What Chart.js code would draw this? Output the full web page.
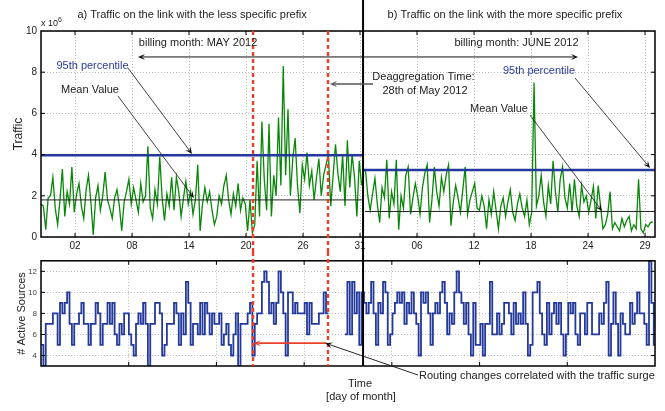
<!DOCTYPE html>
<html><head><meta charset="utf-8">
<script src="https://cdn.jsdelivr.net/npm/chart.js@4/dist/chart.umd.min.js"></script>
<style>
html,body{margin:0;padding:0;background:#fff;}
#wrap{position:relative;width:665px;height:411px;overflow:hidden;background:#fff;}
#c1{position:absolute;left:0;top:0;width:665px;height:252px;}
#c2{position:absolute;left:0;top:252px;width:665px;height:159px;}
</style></head><body>
<div id="wrap"><canvas id="c1" width="665" height="252"></canvas><canvas id="c2" width="665" height="159"></canvas></div>
<script>
const FONT = '"Liberation Sans", Arial, Helvetica, sans-serif';
Chart.defaults.font.family = FONT;

// ---- axis definitions (time axis in days, ticks every 6 days) ----
const xTickValues = [0,6,12,18,24,30,36,42,48,54,60];
const xTickLabels = ['02','08','14','20','26','31','06','12','18','24','29'];
const trafficTicks = [0,2,4,6,8,10];
const sourceTicks = [4,6,8,10,12];
const X_MIN = -3.58, X_MAX = 61.05, SAMPLE_STEP = 0.25;
const MAY_START = -3.58, JUNE_START = 30.32;
const monthSplit = 30.32;
const deaggLines = [18.74, 26.63];

// ---- traffic (x 10^6) ----
const trafficMay = [
 1.6,1.5,0.35,1.9,2.0,2.9,1.4,0.6,1.8,3.3,
 1.0,2.2,1.6,3.4,1.2,2.1,2.6,1.5,0.9,2.3,
 3.0,1.7,0.1,1.9,2.5,1.3,2.0,3.15,1.8,1.4,
 0.9,1.9,2.3,1.5,0.3,1.7,2.2,2.8,1.6,2.4,
 1.8,1.2,2.6,1.7,2.0,4.4,1.4,0.9,2.3,1.6,
 3.9,1.9,0.8,2.1,1.5,2.9,1.3,2.9,2.2,1.0,
 1.9,2.7,1.6,2.2,1.1,1.8,3.5,0.3,1.6,2.4,
 1.7,2.2,1.3,0.6,1.0,2.0,1.6,2.5,3.0,1.8,
 1.1,2.1,1.5,2.6,1.3,1.9,1.6,0.3,1.8,0.2,
 0.6,3.7,1.0,5.6,2.8,1.3,5.5,1.0,3.0,2.0,
 5.8,2.5,8.3,3.0,6.2,2.0,3.8,4.8,2.5,1.15,
 3.5,2.8,4.1,2.5,3.2,1.8,2.9,3.8,2.0,3.0,
 3.5,4.0,1.5,3.0,4.5,3.1,2.2,4.0,1.5,4.7,
 2.4,4.0,2.9,1.0,3.7,2.5
];
const trafficJune = [
 3.2,3.25,2.0,1.3,2.1,2.85,1.6,0.7,2.4,1.9,
 3.75,0.9,2.2,1.6,3.75,0.35,2.0,1.4,3.0,3.4,
 1.1,1.9,2.6,2.0,1.1,2.4,3.1,3.5,0.7,1.8,
 3.4,2.2,1.5,2.9,2.2,3.0,3.5,0.55,1.7,2.5,
 1.9,1.2,2.3,3.4,1.1,1.8,2.2,2.6,1.4,1.3,
 2.0,1.5,0.4,1.8,1.1,2.2,1.3,0.4,1.5,1.9,
 1.0,1.7,2.3,1.2,0.8,1.6,2.1,1.4,1.0,1.8,
 0.6,1.2,7.5,1.5,2.0,3.0,1.7,1.0,2.5,1.6,
 3.7,2.2,1.2,2.8,3.4,1.9,1.4,2.6,1.2,2.8,
 1.5,1.0,2.5,1.7,2.0,1.2,1.8,2.45,0.9,2.5,
 1.5,0.4,0.6,1.1,2.2,0.4,0.7,0.5,0.3,0.9,
 0.5,0.8,1.0,0.3,0.6,0.4,2.8,0.4,0.2,0.6,
 0.5,0.7,0.75
];
const p95Values = [3.97, 3.25];   // May, June
const meanValues = [1.8, 1.24];   // May, June

// ---- number of active sources ----
const activeSources = [
 5,3,7,7,7,8,8,5,9,8,
 9,10,7,5,7,7,8,9,7,7,
 5,7,7,9,8,5,7,7,9,7,
 9,6,5,7,6,8,8,6,5,4,
 7,8,7,9,7,3,7,7,9,9,
 8,4,5,7,7,7,9,8,5,8,
 6,11,9,5,7,7,6,9,6,9,
 8,6,8,7,7,8,5,6,7,5,
 4,6,8,3,7,7,7,8,9,4,
 7,8,8,11,12,11,8,9,7,9,
 12,10,8,4,10,10,8,9,8,8,
 8,9,6,9,7,7,7,8,8,10,
 8,8,null,null,null,null,null,null,6,11,
 6,11,8,10,5,10,9,8,9,11,
 8,5,9,8,11,10,5,6,8,9,
 10,9,10,7,9,8,10,8,7,4,
 10,9,10,8,5,8,9,8,10,11,
 9,6,8,7,10,12,10,9,7,9,
 6,4,9,5,5,7,4,7,7,11,
 6,6,8,6,7,9,9,8,6,9,
 7,8,7,10,7,4,5,10,10,11,
 8,6,5,9,6,8,9,7,9,6,
 4,6,9,8,9,6,5,8,8,6,
 9,9,6,6,6,8,7,9,11,4,
 7,10,7,4,8,7,6,6,9,7,
 8,10,8,8,7,5,13,9,5,6
];

// ---- annotations (data coordinates) ----
const topTexts = [
 {t:'billing month: MAY 2012', x:12.95, y:9.42, c:'#222'},
 {t:'billing month: JUNE 2012', x:46.47, y:9.42, c:'#222'},
 {t:'95th percentile', x:1.84, y:8.30, c:'#2a3c9c'},
 {t:'Mean Value', x:1.58, y:7.14, c:'#222'},
 {t:'Deaggregation Time:', x:36.68, y:7.77, c:'#222'},
 {t:'28th of May 2012', x:36.84, y:7.09, c:'#222'},
 {t:'95th percentile', x:48.84, y:8.06, c:'#2a3c9c'},
 {t:'Mean Value', x:44.63, y:6.21, c:'#222'}
];
const topArrows = [
 {x1:30.32, y1:8.74, x2:6.63, y2:8.74, c:'#111', w:1},
 {x1:30.32, y1:8.74, x2:52.95, y2:8.74, c:'#111', w:1},
 {x1:5.58, y1:8.2, x2:12.32, y2:4.03, c:'#111', w:0.8},
 {x1:4.53, y1:6.84, x2:12.53, y2:1.89, c:'#111', w:0.8},
 {x1:31.37, y1:7.43, x2:26.84, y2:7.43, c:'#555', w:1.6},
 {x1:52.63, y1:7.72, x2:60.53, y2:3.35, c:'#111', w:0.8},
 {x1:47.89, y1:5.92, x2:55.47, y2:1.26, c:'#111', w:0.8}
];
const titleA = {t:'a) Traffic on the link with the less specific prefix', x:12.32};
const titleB = {t:'b) Traffic on the link with the more specific prefix', x:45.26};
const routingArrow = {x1:36.1, x2:26.35, y2:5.17};
const redArrow = {x1:26.5, x2:18.8, y:5.17};

const GREEN = '#0a870a', BLUE = '#23399b', RED = '#e8402a';

function series(start, step, vals){ return vals.map((v,i)=>({x:start+i*step, y:v})); }

function arrow(ctx,x1,y1,x2,y2,color,w){
  const a = Math.atan2(y2-y1, x2-x1), hl = 7, hw = 3;
  const ca = Math.cos(a), sa = Math.sin(a);
  ctx.save();
  ctx.strokeStyle = color; ctx.fillStyle = color; ctx.lineWidth = w; ctx.setLineDash([]);
  ctx.beginPath(); ctx.moveTo(x1,y1); ctx.lineTo(x2 - hl*0.7*ca, y2 - hl*0.7*sa); ctx.stroke();
  ctx.beginPath();
  ctx.moveTo(x2,y2);
  ctx.lineTo(x2 - hl*ca + hw*sa, y2 - hl*sa - hw*ca);
  ctx.lineTo(x2 - hl*0.6*ca, y2 - hl*0.6*sa);
  ctx.lineTo(x2 - hl*ca - hw*sa, y2 - hl*sa + hw*ca);
  ctx.closePath(); ctx.fill();
  ctx.restore();
}
function text(ctx,t,x,y,opts){
  opts = opts||{};
  ctx.save();
  ctx.font = (opts.size||11) + 'px ' + FONT;
  ctx.fillStyle = opts.color||'#222';
  ctx.textAlign = opts.align||'center';
  ctx.textBaseline = 'middle';
  ctx.fillText(t,x,y);
  ctx.restore();
}
function frameAndTicks(chart, xTicksInner){
  const ctx = chart.ctx, ca = chart.chartArea, xs = chart.scales.x, ys = chart.scales.y;
  ctx.save();
  ctx.strokeStyle = '#000'; ctx.setLineDash([]);
  ctx.lineWidth = 1;
  ctx.beginPath();
  xTicksInner.forEach(v=>{
    const p = xs.getPixelForValue(v);
    if (p <= ca.left+1 || p >= ca.right-1) return;
    ctx.moveTo(p, ca.bottom); ctx.lineTo(p, ca.bottom-4);
    ctx.moveTo(p, ca.top); ctx.lineTo(p, ca.top+4);
  });
  ys.ticks.forEach(t=>{
    const p = ys.getPixelForValue(t.value);
    if (p <= ca.top+1 || p >= ca.bottom-1) return;
    ctx.moveTo(ca.left, p); ctx.lineTo(ca.left+4, p);
    ctx.moveTo(ca.right, p); ctx.lineTo(ca.right-4, p);
  });
  ctx.stroke();
  ctx.lineWidth = 1.5;
  ctx.strokeRect(ca.left, ca.top, ca.right-ca.left, ca.bottom-ca.top);
  ctx.restore();
}

const topPlugin = {
  id:'topAnnot',
  afterDraw(chart){
    const ctx = chart.ctx, ca = chart.chartArea, xs = chart.scales.x, ys = chart.scales.y;
    const px = v=>xs.getPixelForValue(v), py = v=>ys.getPixelForValue(v);
    frameAndTicks(chart, xTickValues);
    // red dashed deaggregation lines
    ctx.save();
    ctx.strokeStyle = RED; ctx.lineWidth = 2.4; ctx.setLineDash([4,3]);
    deaggLines.forEach(d=>{ ctx.beginPath(); ctx.moveTo(px(d), ca.top); ctx.lineTo(px(d), chart.height); ctx.stroke(); });
    ctx.setLineDash([]);
    ctx.strokeStyle = '#000'; ctx.lineWidth = 2;
    ctx.beginPath(); ctx.moveTo(px(monthSplit), 0); ctx.lineTo(px(monthSplit), chart.height); ctx.stroke();
    ctx.restore();
    // titles
    text(ctx, titleA.t, px(titleA.x), ca.top-16);
    text(ctx, titleB.t, px(titleB.x), ca.top-16);
    // x 10^6
    text(ctx, 'x 10', ca.left, ca.top-7, {size:9, align:'left'});
    text(ctx, '6', ca.left+17, ca.top-11, {size:7, align:'left'});
    topTexts.forEach(o=>text(ctx, o.t, px(o.x), py(o.y), {color:o.c}));
    topArrows.forEach(a=>arrow(ctx, px(a.x1), py(a.y1), px(a.x2), py(a.y2), a.c, a.w));
  }
};

const bottomXTicks = [];
for (let k=0;k<=7;k++) bottomXTicks.push(X_MIN + k*(X_MAX-X_MIN)/7);

const bottomPlugin = {
  id:'bottomAnnot',
  afterDraw(chart){
    const ctx = chart.ctx, ca = chart.chartArea, xs = chart.scales.x, ys = chart.scales.y;
    const px = v=>xs.getPixelForValue(v), py = v=>ys.getPixelForValue(v);
    frameAndTicks(chart, bottomXTicks);
    ctx.save();
    ctx.strokeStyle = RED; ctx.lineWidth = 2.4; ctx.setLineDash([4,3]);
    deaggLines.forEach(d=>{ ctx.beginPath(); ctx.moveTo(px(d), 0); ctx.lineTo(px(d), ca.bottom); ctx.stroke(); });
    ctx.setLineDash([]);
    ctx.strokeStyle = '#000'; ctx.lineWidth = 2;
    ctx.beginPath(); ctx.moveTo(px(monthSplit), 0); ctx.lineTo(px(monthSplit), ca.bottom); ctx.stroke();
    ctx.restore();
    arrow(ctx, px(redArrow.x1), py(redArrow.y), px(redArrow.x2), py(redArrow.y), RED, 1.8);
    arrow(ctx, px(routingArrow.x1), ca.bottom+9, px(routingArrow.x2), py(routingArrow.y2), '#111', 0.9);
    text(ctx, 'Routing changes correlated with the traffic surge', px(routingArrow.x1)+1, ca.bottom+10, {align:'left'});
    text(ctx, 'Time', px(30.0), ca.bottom+18);
    text(ctx, '[day of month]', px(30.1), ca.bottom+31);
  }
};

const gridCommon = {color:'#a8a8a8', lineWidth:0.8, drawTicks:false, borderDash:[1,2]};
const borderCommon = {display:false, dash:[1,2]};

new Chart(document.getElementById('c1'), {
  type:'line',
  data:{datasets:[
    {data:[{x:X_MIN,y:p95Values[0]},{x:monthSplit,y:p95Values[0]}], borderColor:BLUE, borderWidth:2.4},
    {data:[{x:monthSplit,y:p95Values[1]},{x:X_MAX,y:p95Values[1]}], borderColor:BLUE, borderWidth:2.4},
    {data:[{x:X_MIN,y:meanValues[0]},{x:monthSplit,y:meanValues[0]}], borderColor:'#222', borderWidth:1},
    {data:[{x:monthSplit+0.2,y:meanValues[1]},{x:X_MAX,y:meanValues[1]}], borderColor:'#222', borderWidth:1},
    {data:series(MAY_START, SAMPLE_STEP, trafficMay), borderColor:GREEN, borderWidth:1.3},
    {data:series(JUNE_START, SAMPLE_STEP, trafficJune), borderColor:GREEN, borderWidth:1.3}
  ]},
  options:{
    responsive:false, animation:false, devicePixelRatio:1,
    layout:{padding:{left:0,right:10,top:31,bottom:0}},
    elements:{point:{radius:0}, line:{tension:0, fill:false}},
    plugins:{legend:{display:false}, tooltip:{enabled:false}},
    scales:{
      x:{type:'linear', min:X_MIN, max:X_MAX,
        afterBuildTicks:s=>{ s.ticks = xTickValues.map(v=>({value:v})); },
        afterFit:s=>{ s.height = 15; },
        ticks:{callback:(v,i)=>xTickLabels[i], font:{size:10}, color:'#222', padding:3, maxRotation:0, autoSkip:false},
        grid:gridCommon, border:borderCommon},
      y:{min:0, max:10,
        afterBuildTicks:s=>{ s.ticks = trafficTicks.map(v=>({value:v})); },
        afterFit:s=>{ s.width = 41; },
        ticks:{font:{size:10}, color:'#222', padding:4},
        grid:gridCommon, border:borderCommon,
        title:{display:true, text:'Traffic', font:{size:12}, color:'#222', padding:{top:11,bottom:0}}}
    }
  },
  plugins:[topPlugin]
});

new Chart(document.getElementById('c2'), {
  type:'line',
  data:{datasets:[
    {data:series(X_MIN, SAMPLE_STEP, activeSources), stepped:true, borderColor:BLUE, borderWidth:1.8, spanGaps:false}
  ]},
  options:{
    responsive:false, animation:false, devicePixelRatio:1,
    layout:{padding:{left:0,right:10,top:4,bottom:0}},
    elements:{point:{radius:0}, line:{tension:0, fill:false}},
    plugins:{legend:{display:false}, tooltip:{enabled:false}},
    scales:{
      x:{type:'linear', min:X_MIN, max:X_MAX,
        afterBuildTicks:s=>{ s.ticks = bottomXTicks.map(v=>({value:v})); },
        afterFit:s=>{ s.height = 45; },
        ticks:{display:false},
        grid:gridCommon, border:borderCommon},
      y:{min:3, max:13,
        afterBuildTicks:s=>{ s.ticks = sourceTicks.map(v=>({value:v})); },
        afterFit:s=>{ s.width = 41; },
        ticks:{font:{size:8}, color:'#444', padding:4},
        grid:gridCommon, border:borderCommon,
        title:{display:true, text:'# Active Sources', font:{size:11}, color:'#222', padding:{top:15,bottom:0}}}
    }
  },
  plugins:[bottomPlugin]
});
</script>
</body></html>
